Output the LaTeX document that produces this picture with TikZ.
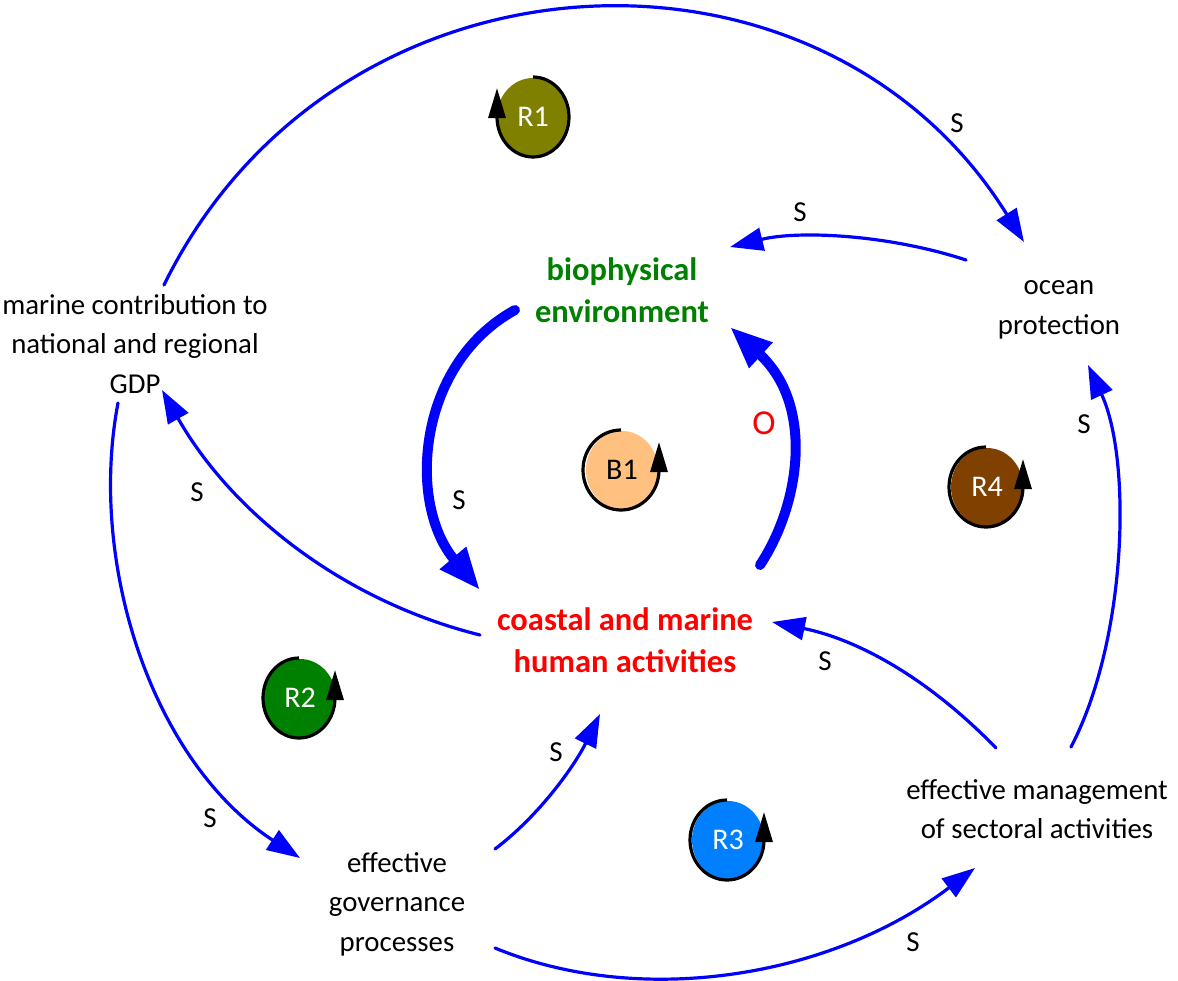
\documentclass[tikz,border=0pt]{standalone}
\usepackage{fontspec}
\setmainfont{Carlito}
\usetikzlibrary{arrows.meta,shapes.geometric}
\definecolor{lnk}{RGB}{0,0,255}
\tikzset{
  lab/.style={align=center,inner sep=0pt,font=\fontsize{28.8}{39.5}\selectfont},
  key/.style={align=center,inner sep=0pt,font=\bfseries\fontsize{32.5}{42.5}\selectfont},
  pol/.style={inner sep=0pt,font=\fontsize{29}{32}\selectfont},
  thinlink/.style={draw=lnk,line width=3.2pt,line cap=round,-{Triangle[length=33pt,width=23pt]}},
  thicklink/.style={draw=lnk,line width=10pt,line cap=round,-{Triangle[length=42pt,width=32pt]}},
  loopdisc/.style={ellipse,minimum width=72pt,minimum height=78pt,inner sep=0pt,font=\fontsize{30}{33}\selectfont},
  looparc/.style={draw=black,line width=3.2pt,-{Triangle[length=30pt,width=17pt]}}
}
\begin{document}
\begin{tikzpicture}[x=1pt,y=-1pt]
\useasboundingbox (0,0) rectangle (1178,980);
\node[key,text={rgb,255:red,0;green,128;blue,0}] (bio) at (622,290) {biophysical\\environment};
\node[key,text=red] (hum) at (625,640) {coastal and marine\\human activities};
\node[lab] (gdp) at (135,344) {marine contribution to\\national and regional\\GDP};
\node[lab] (ocean) at (1059,310) {ocean\\protection};
\node[lab] (gov) at (397,904) {effective\\governance\\processes};
\node[lab] (mgmt) at (1037,809) {effective management\\of sectoral activities};

\draw[thinlink] ([shift={(29,-59)}]gdp.center) .. controls (334,-62) and (820,-86) .. ([shift={(-35,-68)}]ocean.center);
\draw[thinlink] ([shift={(-93,-50)}]ocean.center) .. controls (890,235) and (800,230) .. ([shift={(108,-43)}]bio.center);
\draw[thicklink] ([shift={(-107,20)}]bio.center) .. controls (415,365) and (408,505) .. ([shift={(-145,-50)}]hum.center);
\draw[thicklink] ([shift={(135,-75)}]hum.center) .. controls (800,505) and (815,405) .. ([shift={(108,37)}]bio.center);
\draw[thinlink] ([shift={(-145,-5)}]hum.center) .. controls (340,600) and (230,510) .. ([shift={(27,46)}]gdp.center);
\draw[thinlink] ([shift={(-17,59)}]gdp.center) .. controls (88,560) and (150,760) .. ([shift={(-97,-46)}]gov.center);
\draw[thinlink] ([shift={(98,-55)}]gov.center) .. controls (540,815) and (575,765) .. ([shift={(-25,74)}]hum.center);
\draw[thinlink] ([shift={(98,44)}]gov.center) .. controls (640,1008) and (830,978) .. ([shift={(-62,59)}]mgmt.center);
\draw[thinlink] ([shift={(-41,-61)}]mgmt.center) .. controls (930,680) and (860,640) .. ([shift={(147,-18)}]hum.center);
\draw[thinlink] ([shift={(34,-62)}]mgmt.center) .. controls (1127,640) and (1132,460) .. ([shift={(29,55)}]ocean.center);

\node[pol] (s1) at (957,123) {S};
\node[pol] (s2) at (800,212) {S};
\node[pol] (s3) at (1084,424) {S};
\node[pol] (s4) at (459,500) {S};
\node[pol] (s5) at (197,492) {S};
\node[pol] (s6) at (825,661) {S};
\node[pol] (s7) at (556,752) {S};
\node[pol] (s8) at (210,818) {S};
\node[pol] (s9) at (913,942) {S};
\node[pol,text=red,font=\fontsize{35}{38}\selectfont] (o1) at (764,423) {O};

\node[loopdisc,fill={rgb,255:red,128;green,128;blue,0},text=white] (r1) at (533,117) {R1};
\draw[looparc] (533,77) arc[start angle=270,end angle=540,x radius=36,y radius=40] -- (497,88);
\node[loopdisc,fill={rgb,255:red,0;green,128;blue,0},text=white] (r2) at (300,698) {R2};
\draw[looparc] (299,658) arc[start angle=270,end angle=0,x radius=36,y radius=40] -- (335,670);
\node[loopdisc,fill={rgb,255:red,255;green,192;blue,128},text=black] (b1) at (622,470) {B1};
\draw[looparc] (621,430) arc[start angle=270,end angle=0,x radius=38,y radius=40] -- (659,442);
\node[loopdisc,fill={rgb,255:red,128;green,64;blue,0},text=white] (r4) at (987,487) {R4};
\draw[looparc] (986,447) arc[start angle=270,end angle=0,x radius=37,y radius=40] -- (1023,459);
\node[loopdisc,fill={rgb,255:red,0;green,128;blue,255},text=white] (r3) at (728,840) {R3};
\draw[looparc] (727,800) arc[start angle=270,end angle=0,x radius=37,y radius=40] -- (764,812);
\end{tikzpicture}
\end{document}
